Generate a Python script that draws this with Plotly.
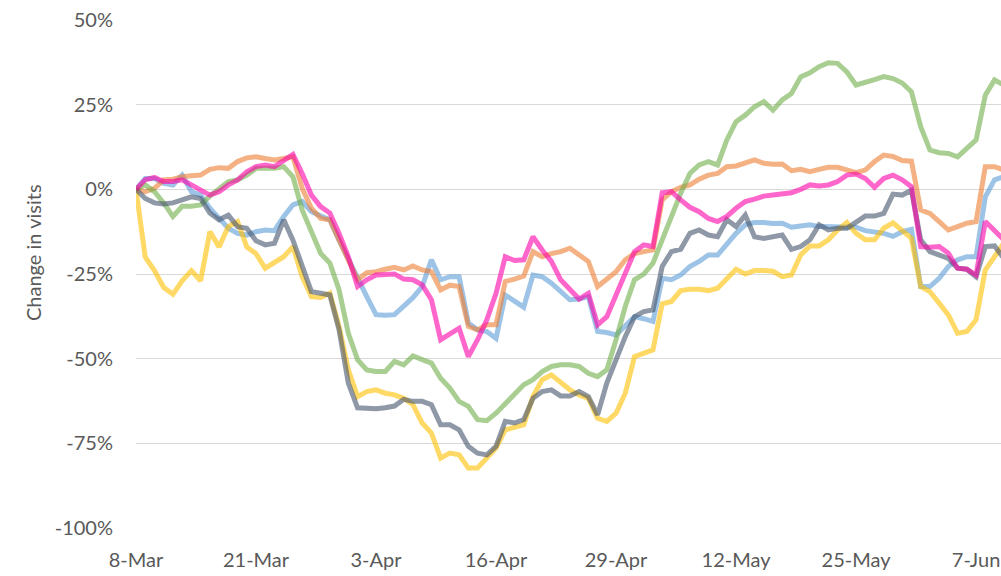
import pandas as pd
import plotly.graph_objects as go

start_date = "2020-03-08"
n_days = 95
dates = pd.date_range(start_date, periods=n_days, freq="D")

tick_dates = ["2020-03-08", "2020-03-21", "2020-04-03", "2020-04-16",
              "2020-04-29", "2020-05-12", "2020-05-25", "2020-06-07"]
tick_labels = ["8-Mar", "21-Mar", "3-Apr", "16-Apr", "29-Apr", "12-May", "25-May", "7-Jun"]

y_ticks = [-100, -75, -50, -25, 0, 25, 50]
y_tick_labels = ["-100%", "-75%", "-50%", "-25%", "0%", "25%", "50%"]

blue = [0, 3.2, 3.2, 1.8, 1.3, 4.2, -0.7, -1.7, -5.6, -8.6, -11.5, -13, -13.5, -12.5, -12, -12.2,
        -8, -4.6, -3.6, -6.6, -8, -9, -15, -20.8, -25.8, -31.7, -37, -37.2, -37, -34.6, -32, -28.7,
        -20.8, -26.7, -25.8, -25.8, -39.5, -41.5, -42, -44, -31.2, -33, -34.8, -25.3, -25.8, -27.7,
        -30.2, -32.6, -32.4, -31.7, -42, -42.3, -43, -40.5, -37.6, -38.2, -39, -26.3, -26.7, -25.3,
        -22.8, -21.3, -19.4, -19.4, -15.9, -13, -10.5, -9.8, -9.8, -10.1, -10, -11.2, -10.8, -10.5,
        -11, -11, -11, -11, -11.2, -12.2, -12.5, -13, -13.9, -12.5, -11.8, -28.7, -28.7, -26.3,
        -22.8, -20.8, -19.9, -19.9, -2.2, 2.8, 3.7]

orange = [0, -0.7, 0.3, 2.8, 3, 3.7, 4, 4.2, 5.9, 6.4, 6.2, 8.2, 9.3, 9.6, 9.1, 8.7, 9.1, 9.6, 0.3,
          -5.6, -8.6, -9, -15, -21, -26.7, -24.6, -24.3, -23.6, -23, -23.8, -22.6, -23.8, -24.3,
          -29.7, -28.3, -28.7, -40.5, -41.5, -40, -40, -27.2, -26.5, -25.6, -18.4, -19.9, -19,
          -18.4, -17.4, -19.4, -21.3, -28.7, -26.3, -24.3, -20.8, -19, -18.4, -17.9, -3.1, -0.7,
          0.6, 1.3, 3, 4.2, 4.7, 6.7, 6.9, 7.9, 8.7, 7.7, 7.4, 7.5, 5.5, 5.9, 5.2, 5.9, 6.5, 6.5,
          5.7, 4.9, 5.7, 8.2, 10.1, 9.7, 8.5, 8.3, -6.1, -7.1, -9.5, -12, -11, -10, -9.5, 6.7,
          6.7, 5.7]

green = [0, 1.3, -0.7, -4, -8, -5, -5, -4.6, -2, 0.3, 2.3, 2.8, 4.2, 6.2, 6.2, 6.2, 6.7, 3.7,
         -6.1, -13, -18.9, -21.8, -29.7, -42.5, -50.3, -53.3, -53.8, -53.8, -50.8, -51.8, -49.2,
         -50.3, -51.3, -55.8, -58.7, -62.6, -64.1, -68, -68.3, -66.1, -63.1, -60.5, -57.7, -56.2,
         -53.8, -52.3, -51.8, -51.8, -52.3, -54.3, -55.3, -53.3, -44.4, -34.6, -26.7, -25, -21.8,
         -14.9, -8.1, -1.2, 4.7, 7.2, 8.2, 7.2, 14.6, 20, 21.9, 24.4, 25.9, 23.4, 26.4, 28.3,
         33.2, 34.4, 36.2, 37.4, 37.2, 34.7, 30.8, 31.5, 32.4, 33.3, 32.7, 31.4, 28.8, 18.5,
         11.6, 10.8, 10.6, 9.6, 12.1, 14.6, 27.8, 32.3, 30.8]

yellow = [0, -20, -24, -29, -31, -27, -24, -27, -12.5, -17, -11, -9.5, -17, -19, -23.3, -21.8,
          -19.9, -16.9, -25.8, -31.7, -31.9, -30.7, -40.5, -53.3, -61.2, -59.7, -59.2, -60.2,
          -60.7, -61.7, -63.6, -69, -72, -79.4, -77.9, -78.4, -82.3, -82.3, -79.4, -76.4, -71,
          -70.3, -69.5, -61.2, -56.2, -54.8, -57.2, -59.2, -60.7, -61.7, -67.6, -68.5, -66.1,
          -60.2, -49.4, -48.2, -47.4, -33.8, -33.1, -29.9, -29.5, -29.5, -29.9, -29.2, -26.3,
          -23.6, -25, -24, -24, -24.2, -25.8, -25.3, -19.4, -16.7, -16.7, -14.9, -12, -9.8, -13,
          -14.9, -14.9, -11.5, -9.9, -12, -14.5, -28.7, -30.2, -33.6, -37.1, -42.5, -42, -38.5,
          -23.8, -19.9, -15.9]

grey = [0, -2.7, -4, -4.3, -4, -3.1, -2.2, -2.7, -7, -9, -7.6, -11, -11.5, -15.2, -16.4, -15.9,
        -9, -15, -22.8, -30.2, -30.7, -31.2, -41.5, -57.2, -64.5, -64.8, -64.8, -64.5, -64, -62,
        -62.6, -62.6, -63.6, -69.5, -69.5, -71, -75.9, -77.9, -78.4, -75.9, -68.5, -69, -68,
        -61.7, -59.7, -59.2, -61, -61, -59.7, -61.2, -66.6, -57.2, -50.3, -43.5, -37.6, -36.1,
        -35.6, -22.8, -18.4, -17.7, -13, -12, -13.5, -14, -9, -11, -7.6, -14, -14.5, -14, -13.5,
        -17.7, -16.9, -14.9, -10.5, -12, -11.5, -11.5, -9.5, -7.9, -7.9, -7.1, -1.4, -1.7, -0.3,
        -14.9, -18.4, -19.4, -20.4, -23.3, -23.6, -25.8, -16.9, -16.7, -20.4]

pink = [0, 2.8, 3.5, 2.3, 2.3, 2.8, 1.3, -0.2, -1.7, -0.7, 1.3, 2.8, 5.2, 6.7, 7.2, 6.7, 8.7,
        10.3, 4.7, -1.7, -5.1, -7, -13, -19.9, -28.7, -26.7, -25.3, -25, -25, -26.5, -26.7,
        -28.2, -32.6, -44.4, -42.5, -41, -49.4, -44.4, -38.5, -30.7, -19.9, -21, -20.8, -14,
        -17.9, -21.3, -26.7, -29.7, -32.4, -30.7, -40, -37.6, -31.2, -24.8, -18.4, -16.4, -16.9,
        -1, -0.7, -3.1, -5.3, -6.6, -8.6, -9.5, -8, -5.6, -3.6, -2.9, -2, -1.7, -1.4, -1, 0,
        1.3, 1, 1.3, 2.3, 4.2, 4.5, 3.2, 0.6, 3.2, 4.2, 2.8, 0.8, -16.9, -17.1, -16.9, -18.9,
        -23.3, -23.6, -25.3, -9.5, -12, -14.9]

series = [
    ("Series A", blue, "rgba(91,155,213,0.6)"),
    ("Series B", orange, "rgba(237,125,49,0.6)"),
    ("Series C", green, "rgba(112,173,71,0.6)"),
    ("Series D", yellow, "rgba(255,192,0,0.6)"),
    ("Series E", grey, "rgba(68,84,106,0.6)"),
    ("Series F", pink, "rgba(255,0,170,0.6)"),
]

fig = go.Figure()
for name, vals, col in series:
    fig.add_trace(go.Scatter(x=dates, y=vals, mode="lines", name=name,
                             line=dict(color=col, width=5), hoverinfo="x+y"))

font_family = "Lato, 'Open Sans', sans-serif"
txt_col = "#595959"

fig.update_layout(
    width=1001, height=576,
    margin=dict(l=136, r=0, t=20, b=48),
    paper_bgcolor="white", plot_bgcolor="white",
    showlegend=False,
    font=dict(family=font_family, size=20, color=txt_col),
    xaxis=dict(
        type="date", automargin=False,
        range=["2020-03-08 00:00", "2020-06-09 16:48"],
        tickvals=tick_dates, ticktext=tick_labels,
        showgrid=False, zeroline=False, showline=False,
        ticks="", ticklabelstandoff=18,
        tickfont=dict(family=font_family, size=20, color=txt_col),
    ),
    yaxis=dict(
        range=[-100, 50], automargin=False,
        tickvals=y_ticks, ticktext=y_tick_labels,
        showgrid=True, gridcolor="#D9D9D9", gridwidth=1.3,
        zeroline=False, showline=False, ticks="",
        ticklabelstandoff=22,
        tickfont=dict(family=font_family, size=20, color=txt_col),
    ),
    annotations=[dict(
        text="Change in visits", textangle=-90,
        xref="paper", yref="paper",
        x=(33 - 136) / 865, y=(528 - 253) / 508,
        xanchor="center", yanchor="middle", showarrow=False,
        font=dict(family=font_family, size=20, color=txt_col),
    )],
)

fig.write_html(
    "out.html",
    config={"displayModeBar": False},
    post_script="document.body.style.margin='0';document.body.style.overflow='hidden';",
)
